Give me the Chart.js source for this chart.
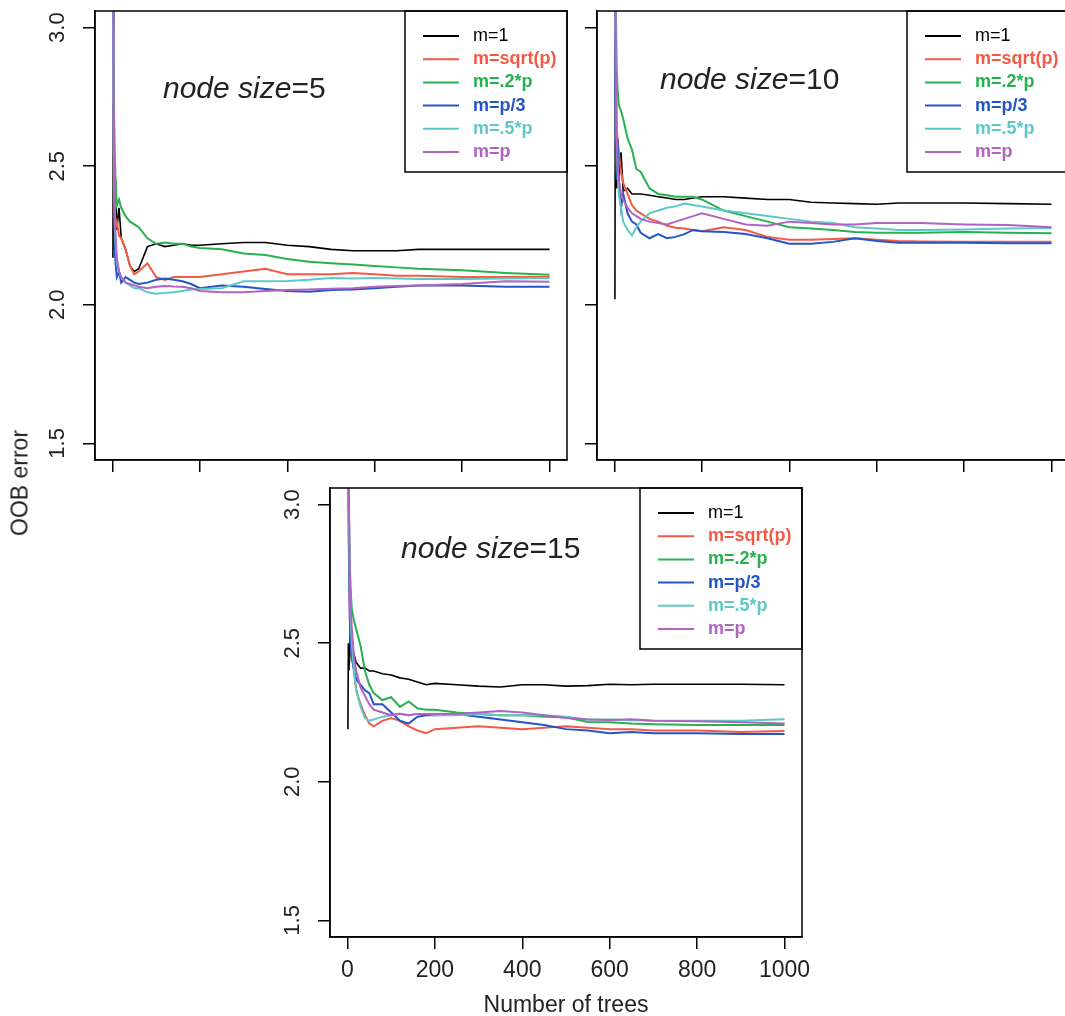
<!DOCTYPE html>
<html>
<head>
<meta charset="utf-8">
<title>OOB error vs number of trees</title>
<script src="https://cdn.jsdelivr.net/npm/chart.js@4.4.1/dist/chart.umd.min.js"></script>
<style>
  html, body { margin: 0; padding: 0; background: #fff; overflow: hidden; }
  body { width: 1065px; height: 1016px; position: relative; }
  canvas { position: absolute; }
  #ylab {
    position: absolute; left: 20px; top: 483px;
    transform: translate(-50%, -50%) rotate(-90deg);
    font: 23px "Liberation Sans", Arial, sans-serif; color: #222; white-space: nowrap;
  }
</style>
</head>
<body>
<canvas id="p5"></canvas>
<canvas id="p10"></canvas>
<canvas id="p15"></canvas>
<div id="ylab">OOB error</div>
<script>
var trees = [1,2,3,5,7,10,15,20,30,40,50,60,80,100,120,140,160,180,200,250,300,350,400,450,500,550,600,650,700,800,900,1000];
var seriesNames = ["m=1", "m=sqrt(p)", "m=.2*p", "m=p/3", "m=.5*p", "m=p"];
var seriesColors = ["#000000", "#f25a46", "#27b14f", "#2355c6", "#5ec8c8", "#b064c0"];
var xTicks = [0, 200, 400, 600, 800, 1000];
var yTicks = [1.5, 2.0, 2.5, 3.0];

// node size = 5
var ns5_m1    = [2.17,2.73,2.20,2.30,2.45,2.27,2.35,2.24,2.20,2.14,2.12,2.13,2.21,2.22,2.21,2.215,2.22,2.215,2.215,2.22,2.225,2.225,2.215,2.21,2.20,2.195,2.195,2.195,2.20,2.20,2.20,2.20];
var ns5_sqrt  = [3.4,2.75,2.6,2.35,2.28,2.30,2.25,2.24,2.20,2.14,2.11,2.12,2.15,2.10,2.09,2.10,2.10,2.10,2.10,2.11,2.12,2.13,2.11,2.11,2.11,2.115,2.11,2.105,2.105,2.10,2.10,2.10];
var ns5_p02   = [3.5,3.1,2.75,2.55,2.45,2.36,2.38,2.35,2.32,2.30,2.29,2.28,2.24,2.22,2.225,2.22,2.22,2.21,2.205,2.20,2.185,2.18,2.165,2.155,2.15,2.145,2.14,2.135,2.13,2.125,2.115,2.108];
var ns5_p3    = [3.5,3.0,2.6,2.20,2.15,2.10,2.12,2.08,2.10,2.09,2.08,2.075,2.08,2.09,2.095,2.09,2.085,2.075,2.06,2.07,2.065,2.057,2.05,2.047,2.053,2.055,2.06,2.065,2.07,2.07,2.065,2.065];
var ns5_p05   = [3.6,3.0,2.6,2.30,2.22,2.15,2.12,2.10,2.08,2.07,2.06,2.06,2.045,2.04,2.043,2.045,2.05,2.055,2.057,2.06,2.085,2.085,2.086,2.09,2.097,2.095,2.097,2.095,2.093,2.093,2.095,2.097];
var ns5_p     = [3.8,3.1,2.75,2.35,2.25,2.17,2.12,2.10,2.08,2.075,2.07,2.065,2.06,2.065,2.068,2.066,2.065,2.06,2.05,2.045,2.045,2.05,2.053,2.055,2.058,2.06,2.065,2.068,2.07,2.075,2.085,2.083];

// node size = 10
var ns10_m1   = [2.02,2.97,2.45,2.42,2.60,2.45,2.55,2.41,2.42,2.40,2.40,2.40,2.395,2.39,2.385,2.38,2.38,2.385,2.39,2.39,2.385,2.38,2.38,2.37,2.367,2.365,2.363,2.367,2.367,2.367,2.365,2.363];
var ns10_sqrt = [3.5,3.2,2.9,2.65,2.60,2.55,2.48,2.44,2.40,2.36,2.34,2.33,2.31,2.30,2.285,2.278,2.275,2.27,2.265,2.28,2.27,2.245,2.235,2.235,2.237,2.24,2.235,2.23,2.228,2.227,2.227,2.227];
var ns10_p02  = [3.6,3.3,3.1,2.85,2.78,2.72,2.70,2.67,2.60,2.56,2.49,2.48,2.42,2.40,2.395,2.39,2.39,2.39,2.38,2.34,2.32,2.30,2.28,2.275,2.27,2.263,2.26,2.26,2.26,2.263,2.26,2.258];
var ns10_p3   = [3.5,2.9,2.55,2.45,2.60,2.45,2.35,2.40,2.33,2.30,2.29,2.26,2.24,2.255,2.24,2.245,2.255,2.27,2.265,2.263,2.255,2.24,2.22,2.22,2.227,2.24,2.23,2.224,2.224,2.224,2.222,2.222];
var ns10_p05  = [3.7,3.1,2.9,2.6,2.50,2.40,2.35,2.30,2.27,2.25,2.28,2.30,2.33,2.34,2.35,2.355,2.365,2.36,2.355,2.34,2.33,2.32,2.31,2.30,2.295,2.28,2.275,2.27,2.27,2.272,2.275,2.277];
var ns10_p    = [3.8,3.2,2.85,2.6,2.50,2.45,2.40,2.38,2.35,2.33,2.32,2.31,2.30,2.295,2.29,2.30,2.31,2.32,2.33,2.31,2.29,2.285,2.30,2.295,2.29,2.29,2.295,2.295,2.295,2.29,2.288,2.28];

// node size = 15
var ns15_m1   = [2.19,2.50,2.40,2.45,2.59,2.45,2.46,2.43,2.41,2.41,2.40,2.40,2.39,2.385,2.375,2.37,2.36,2.35,2.355,2.35,2.345,2.342,2.35,2.35,2.345,2.347,2.352,2.35,2.352,2.352,2.352,2.35];
var ns15_sqrt = [3.5,3.1,2.85,2.65,2.55,2.45,2.40,2.33,2.28,2.24,2.21,2.20,2.22,2.23,2.22,2.20,2.185,2.175,2.19,2.195,2.20,2.195,2.19,2.195,2.20,2.195,2.19,2.19,2.185,2.185,2.18,2.183];
var ns15_p02  = [3.6,3.3,3.0,2.80,2.70,2.62,2.58,2.55,2.49,2.40,2.35,2.32,2.295,2.305,2.27,2.29,2.265,2.26,2.26,2.25,2.245,2.24,2.24,2.235,2.233,2.216,2.215,2.21,2.208,2.205,2.205,2.205];
var ns15_p3   = [3.7,3.2,2.9,2.6,2.5,2.45,2.40,2.37,2.35,2.33,2.32,2.28,2.28,2.25,2.22,2.21,2.235,2.24,2.24,2.245,2.235,2.225,2.215,2.205,2.19,2.185,2.175,2.18,2.175,2.175,2.172,2.172];
var ns15_p05  = [3.8,3.3,3.0,2.75,2.6,2.5,2.40,2.33,2.27,2.23,2.22,2.225,2.235,2.24,2.245,2.24,2.245,2.245,2.24,2.24,2.245,2.24,2.24,2.24,2.235,2.225,2.225,2.222,2.22,2.22,2.22,2.226];
var ns15_p    = [3.9,3.4,3.05,2.8,2.65,2.55,2.45,2.40,2.34,2.31,2.28,2.26,2.25,2.24,2.245,2.24,2.245,2.245,2.245,2.245,2.25,2.255,2.25,2.24,2.23,2.225,2.223,2.226,2.22,2.218,2.215,2.21];

var FONT = '"Liberation Sans", Arial, sans-serif';
var PLOT_W = 472, PLOT_H = 449;
var PAD_L = 90, PAD_T = 30, PAD_R = 40;

// box, panel title and legend, R style
var rPlotDecor = {
  id: "rPlotDecor",
  afterDraw: function(chart) {
    var ctx = chart.ctx, a = chart.chartArea, o = chart.options.plugins.rPlotDecor;
    ctx.save();
    // legend
    var w = 162, h = 161, x0 = a.right - w, y0 = a.top;
    ctx.fillStyle = "#fff";
    ctx.fillRect(x0, y0, w, h);
    ctx.strokeStyle = "#000";
    ctx.lineWidth = 1.5;
    ctx.strokeRect(x0, y0, w, h);
    ctx.textBaseline = "middle";
    seriesNames.forEach(function(name, i) {
      var y = y0 + 25 + i * 23.2;
      ctx.strokeStyle = seriesColors[i];
      ctx.lineWidth = 2;
      ctx.beginPath();
      ctx.moveTo(x0 + 18, y);
      ctx.lineTo(x0 + 54, y);
      ctx.stroke();
      ctx.fillStyle = seriesColors[i];
      ctx.font = (i ? "bold " : "") + "18px " + FONT;
      ctx.fillText(name, x0 + 68, y);
    });
    // title
    ctx.fillStyle = "#222";
    ctx.textBaseline = "alphabetic";
    ctx.font = "italic 30px " + FONT;
    var tx = a.left + o.titleDx, ty = a.top + o.titleDy;
    ctx.fillText("node size", tx, ty);
    var tw = ctx.measureText("node size").width;
    ctx.font = "30px " + FONT;
    ctx.fillText("=" + o.nodeSize, tx + tw, ty);
    // box
    ctx.strokeStyle = "#000";
    ctx.lineWidth = 1.5;
    ctx.strokeRect(a.left, a.top, a.width, a.height);
    ctx.restore();
  }
};

function makePanel(id, left, top, nodeSize, values, opts) {
  var padB = opts.xLabels ? 90 : 30;
  var canvas = document.getElementById(id);
  canvas.width = PAD_L + PLOT_W + PAD_R;
  canvas.height = PAD_T + PLOT_H + padB;
  canvas.style.left = (left - PAD_L) + "px";
  canvas.style.top = (top - PAD_T) + "px";

  var datasets = values.map(function(vals, i) {
    return {
      label: seriesNames[i],
      data: trees.map(function(t, k) { return { x: t, y: vals[k] }; }),
      borderColor: seriesColors[i],
      borderWidth: i === 0 ? 1.6 : 2,
      pointRadius: 0,
      tension: 0,
      order: values.length - 1 - i
    };
  });

  return new Chart(canvas, {
    type: "line",
    data: { datasets: datasets },
    options: {
      responsive: false,
      animation: false,
      events: [],
      layout: { padding: { left: 0, top: PAD_T, right: PAD_R, bottom: 0 } },
      plugins: {
        legend: { display: false },
        tooltip: { enabled: false },
        rPlotDecor: { nodeSize: nodeSize, titleDx: opts.titleDx, titleDy: opts.titleDy }
      },
      scales: {
        x: {
          type: "linear",
          min: -40, max: 1040,
          afterBuildTicks: function(s) { s.ticks = xTicks.map(function(v) { return { value: v }; }); },
          afterFit: function(s) { s.height = padB; },
          grid: { display: true, drawOnChartArea: false, drawTicks: true, tickLength: 12, color: "#000", lineWidth: 1.5 },
          border: { display: true, color: "#000", width: 1.5 },
          ticks: {
            display: opts.xLabels, autoSkip: false, padding: 8, color: "#222",
            font: { family: FONT, size: 23 },
            callback: function(v) { return String(v); }
          },
          title: {
            display: !!opts.xLabels, text: "Number of trees", color: "#222",
            font: { family: FONT, size: 23 }, padding: { top: 0, bottom: 8 }
          }
        },
        y: {
          type: "linear",
          min: 1.44, max: 3.06,
          afterBuildTicks: function(s) { s.ticks = yTicks.map(function(v) { return { value: v }; }); },
          afterFit: function(s) { s.width = PAD_L; },
          grid: { display: true, drawOnChartArea: false, drawTicks: true, tickLength: 12, color: "#000", lineWidth: 1.5 },
          border: { display: true, color: "#000", width: 1.5 },
          ticks: {
            display: opts.yLabels, autoSkip: false, padding: 10, color: "#222",
            minRotation: 90, maxRotation: 90, crossAlign: "center",
            font: { family: FONT, size: 22 },
            callback: function(v) { return v.toFixed(1); }
          }
        }
      }
    },
    plugins: [rPlotDecor]
  });
}

makePanel("p5", 95, 11, 5, [ns5_m1, ns5_sqrt, ns5_p02, ns5_p3, ns5_p05, ns5_p],
  { xLabels: false, yLabels: true, titleDx: 68, titleDy: 87 });
makePanel("p10", 597, 11, 10, [ns10_m1, ns10_sqrt, ns10_p02, ns10_p3, ns10_p05, ns10_p],
  { xLabels: false, yLabels: false, titleDx: 63, titleDy: 78 });
makePanel("p15", 330, 488, 15, [ns15_m1, ns15_sqrt, ns15_p02, ns15_p3, ns15_p05, ns15_p],
  { xLabels: true, yLabels: true, titleDx: 71, titleDy: 70 });
</script>
</body>
</html>
